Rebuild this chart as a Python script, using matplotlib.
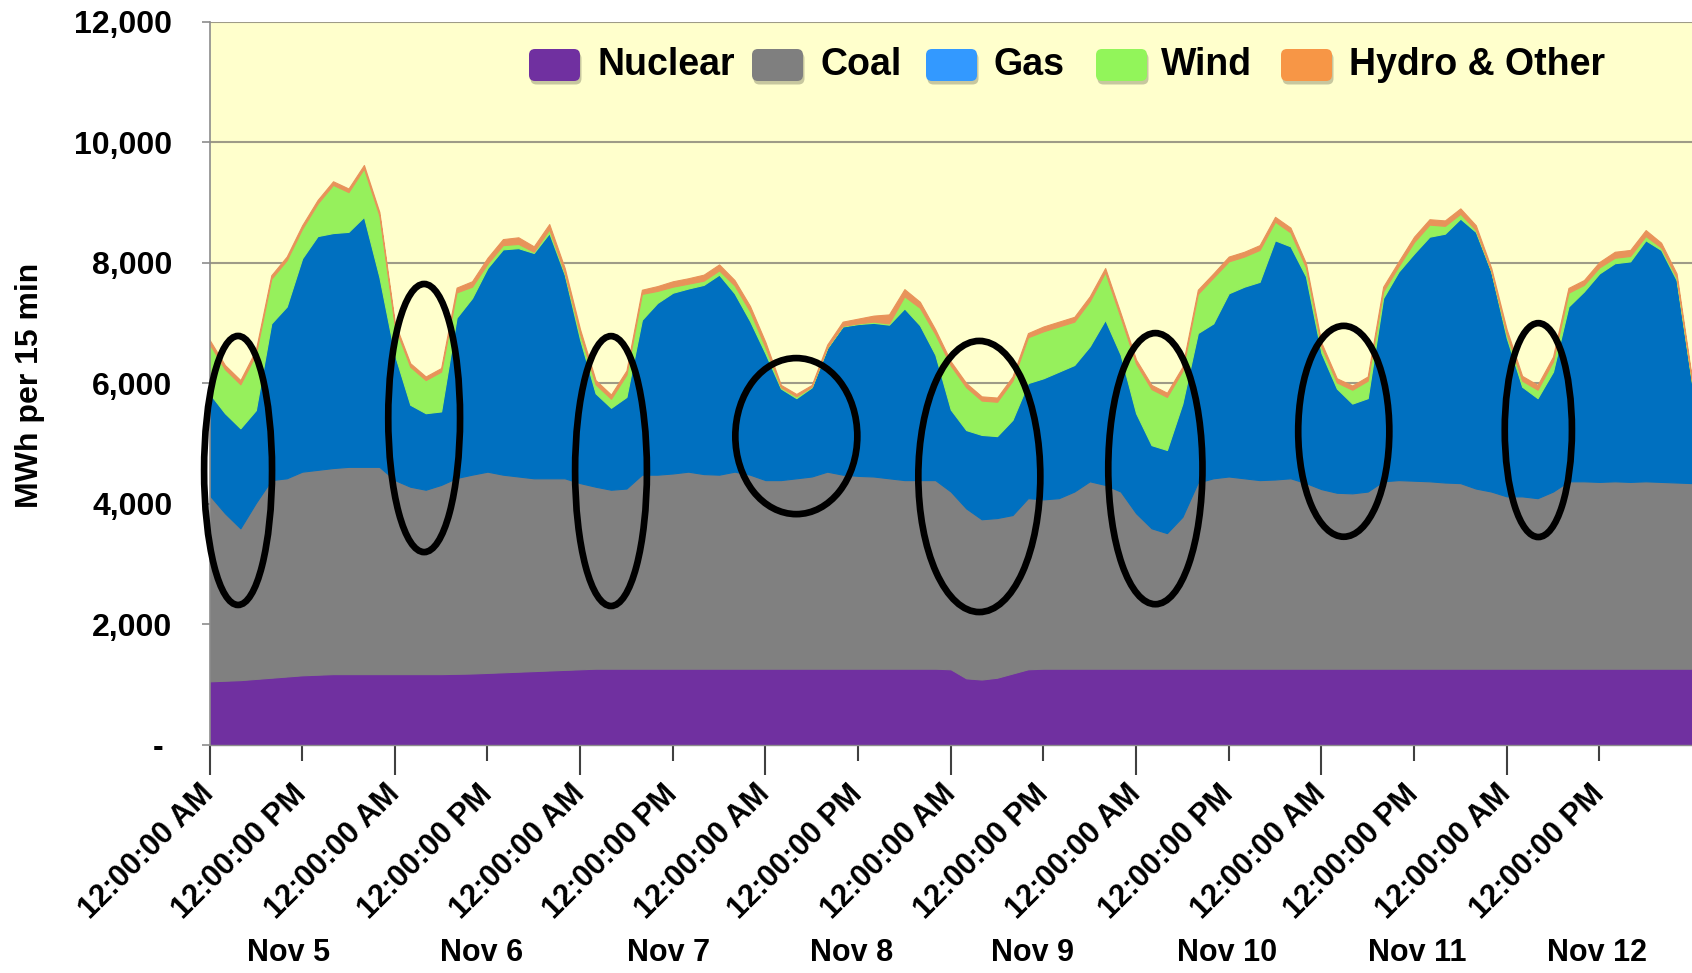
import numpy as np
import matplotlib
matplotlib.use("Agg")
import matplotlib.pyplot as plt
import matplotlib.transforms as mtransforms
from matplotlib.patches import Ellipse, FancyBboxPatch

plt.rcParams["font.family"] = ["Liberation Sans", "DejaVu Sans"]
plt.rcParams["font.weight"] = "bold"

# ---- data: generation by source, MWh per 15 min, every 2 hours from Nov 5 00:00 ----
hours = np.arange(0, 193, 2)

nuclear = [1050, 1060, 1070, 1090, 1110, 1130, 1150, 1160, 1170, 1170, 1170, 1170, 1170, 1170, 1170, 1170,
           1175, 1180, 1190, 1200, 1210, 1220, 1230, 1240, 1250,
           1260, 1260, 1260, 1260, 1260, 1260, 1260, 1260, 1260, 1260, 1260, 1260,
           1260, 1260, 1260, 1260, 1260, 1260, 1260, 1260, 1260, 1260, 1260,
           1250, 1100, 1080, 1110, 1180, 1250,
           1260, 1260, 1260, 1260, 1260, 1260, 1260, 1260, 1260, 1260, 1260,
           1260, 1260, 1260, 1260, 1260, 1260, 1260, 1260, 1260, 1260, 1260,
           1260, 1260, 1260, 1260, 1260, 1260, 1260, 1260, 1260, 1260, 1260,
           1260, 1260, 1260, 1260, 1260, 1260, 1260, 1260, 1260, 1260]

coal = [3090, 2780, 2520, 2920, 3280, 3290, 3380, 3400, 3420, 3440, 3440, 3440,
        3220, 3110, 3060, 3140, 3250, 3300, 3340, 3280, 3240, 3200, 3190, 3180,
        3090, 3020, 2970, 2990, 3220, 3220, 3240, 3270, 3230, 3220, 3270, 3220,
        3130, 3130, 3160, 3190, 3270, 3220, 3200, 3190, 3160, 3130, 3130, 3130,
        2950, 2820, 2660, 2650, 2630, 2840, 2810, 2830, 2940, 3110, 3050, 2940,
        2580, 2330, 2250, 2520, 3090, 3160, 3190, 3160, 3130, 3140, 3160, 3080,
        2980, 2920, 2910, 2940, 3110, 3130, 3120, 3110, 3090, 3080, 2990, 2940,
        2860, 2860, 2830, 2940, 3110, 3110, 3100, 3110, 3100, 3110, 3100, 3090,
        3080]

gas = [1690, 1660, 1660, 1540, 2600, 2850, 3540, 3880, 3900, 3900, 4150, 3150,
       2080, 1360, 1270, 1220, 2660, 2930, 3380, 3740, 3790, 3740, 4070, 3380,
       2380, 1550, 1360, 1520, 2570, 2850, 3000, 3040, 3140, 3320, 2960, 2550,
       2100, 1520, 1330, 1480, 2050, 2460, 2520, 2550, 2550, 2850, 2570, 2080,
       1360, 1300, 1400, 1360, 1580, 1910, 2010, 2100, 2100, 2240, 2740, 2270,
       1660, 1380, 1380, 1880, 2480, 2570, 3040, 3180, 3290, 3970, 3850, 3430,
       2260, 1730, 1490, 1550, 3040, 3460, 3770, 4060, 4130, 4390, 4260, 3650,
       2630, 1820, 1660, 1990, 2900, 3150, 3460, 3620, 3660, 4000, 3850, 3360,
       1660]

wind = [820, 730, 730, 930, 740, 770, 490, 540, 800, 660, 800, 1020,
        470, 630, 550, 660, 420, 190, 70, 70, 70, 20, 60, 30,
        90, 150, 150, 370, 430, 200, 100, 80, 70, 70, 130, 160,
        100, 20, 30, 10, 10, 10, 10, 20, 20, 200, 290, 340,
        730, 710, 570, 570, 650, 760, 780, 750, 720, 750, 790, 620,
        820, 930, 880, 540, 650, 760, 530, 500, 530, 310, 230, 150,
        100, 100, 230, 290, 110, 90, 190, 200, 130, 80, 30, 10,
        60, 100, 140, 170, 230, 110, 100, 90, 90, 70, 40, 40,
        20]

hydro = [70, 70, 70, 70, 60, 60, 60, 60, 60, 60, 60, 60,
         60, 60, 60, 60, 80, 90, 100, 100, 110, 90, 90, 80,
         80, 70, 70, 70, 70, 80, 90, 90, 100, 100, 90, 90,
         90, 40, 40, 30, 50, 70, 80, 100, 150, 120, 100, 80,
         70, 70, 70, 70, 70, 70, 80, 80, 80, 80, 70, 70,
         70, 70, 70, 70, 70, 70, 80, 80, 80, 80, 80, 70,
         70, 70, 70, 70, 80, 80, 90, 90, 90, 90, 80, 50,
         80, 80, 80, 80, 80, 80, 90, 100, 100, 100, 80, 70,
         40]

series_names = ["Nuclear", "Coal", "Gas", "Wind", "Hydro & Other"]
day_labels = ["Nov 5", "Nov 6", "Nov 7", "Nov 8", "Nov 9", "Nov 10", "Nov 11", "Nov 12"]
y_tick_values = [0, 2000, 4000, 6000, 8000, 10000, 12000]
y_tick_labels = ["- ", "2,000", "4,000", "6,000", "8,000", "10,000", "12,000"]

# ---- styling / layout ----
area_colors = ["#7030A0", "#808080", "#0070C0", "#96F05C", "#E8935A"]
legend_colors = ["#7030A0", "#7F7F7F", "#3399FF", "#92F55A", "#F79646"]
legend_swatch_x = [529, 752, 926, 1096, 1281]      # pixel positions of legend swatches
legend_text_x = [597, 820, 993, 1161, 1349]
day_label_x = [10.2, 35.2, 59.4, 83.1, 106.6, 131.8, 156.4, 179.7]  # hours

# highlight rings: (centre hour, centre MWh, width in hours, height in MWh)
rings = [(3.7, 4550, 8.8, 4465), (27.8, 5420, 9.3, 4450), (52.0, 4540, 9.3, 4480),
         (76.0, 5120, 15.8, 2590), (99.7, 4450, 15.8, 4500), (122.5, 4580, 12.2, 4500),
         (146.9, 5200, 11.8, 3500), (172.1, 5220, 8.7, 3550)]

W, H = 1692, 973
fig = plt.figure(figsize=(W / 100, H / 100), dpi=100, facecolor="white")
ax = fig.add_axes([209.5 / W, 1 - 744.6 / H, (W - 209.5) / W, 723 / H])
ax.set_facecolor("#FFFFCC")

polys = ax.stackplot(hours, nuclear, coal, gas, wind, hydro, colors=area_colors, zorder=2)
for p in polys:
    p.set_edgecolor(p.get_facecolor())
    p.set_linewidth(0.8)

ax.set_xlim(0, 192)
ax.set_ylim(0, 12000)

# horizontal grid
ax.set_axisbelow(True)
ax.yaxis.grid(True, color="#9E9B87", linewidth=1.5)
ax.xaxis.grid(False)

for s in ["top", "right"]:
    ax.spines[s].set_visible(False)
ax.spines["left"].set_color("#8C8C8C")
ax.spines["left"].set_linewidth(1.2)
ax.spines["bottom"].set_color("#8C8C8C")
ax.spines["bottom"].set_linewidth(1.0)

# y axis
ax.set_yticks(y_tick_values)
ax.set_yticklabels(y_tick_labels)
ax.tick_params(axis="y", length=5.8, width=1.2, color="#8C8C8C", pad=21, labelsize=23)
ax.set_ylabel("MWh per 15 min", fontsize=23, fontweight="bold")
ax.yaxis.label.set_va("center")
ax.yaxis.set_label_coords(-0.121, 0.497)

# x axis: midnight (major) and noon (minor) ticks
am_ticks = np.arange(0, 169, 24)
pm_ticks = np.arange(12, 181, 24)
ax.set_xticks(am_ticks)
ax.set_xticks(pm_ticks, minor=True)
ax.set_xticklabels(["12:00:00 AM"] * len(am_ticks), rotation=45, ha="right", va="center",
                   rotation_mode="anchor", fontsize=22, fontweight="bold")
ax.set_xticklabels(["12:00:00 PM"] * len(pm_ticks), minor=True, rotation=45, ha="right",
                   va="center", rotation_mode="anchor", fontsize=22, fontweight="bold")
ax.tick_params(axis="x", which="major", length=21.6, width=1.5, color="#404040", pad=10.8)
ax.tick_params(axis="x", which="minor", length=11.5, width=1.5, color="#404040", pad=20.9)

trans = mtransforms.blended_transform_factory(ax.transData, ax.transAxes)
for xpos, lab in zip(day_label_x, day_labels):
    ax.text(xpos, -0.288, lab, transform=trans, ha="center", va="center",
            fontsize=22, fontweight="bold")

# highlight rings
for cx, cy, w, h in rings:
    ax.add_patch(Ellipse((cx, cy), w, h, fill=False, edgecolor="black", linewidth=4.8,
                         clip_on=False, zorder=5))

# legend: rounded swatches with a soft drop shadow
pix = mtransforms.IdentityTransform()
sw_w, sw_h, sw_y = 51, 32, H - 81
for sx, tx, col, name in zip(legend_swatch_x, legend_text_x, legend_colors, series_names):
    style = "round,pad=0,rounding_size=6"
    fig.patches.append(FancyBboxPatch((sx + 1.5, sw_y - 3.5), sw_w, sw_h, boxstyle=style,
                                      facecolor="black", alpha=0.22, edgecolor="none",
                                      transform=pix, figure=fig, zorder=6))
    fig.patches.append(FancyBboxPatch((sx, sw_y), sw_w, sw_h, boxstyle=style,
                                      facecolor=col, edgecolor="none",
                                      transform=pix, figure=fig, zorder=7))
    fig.text(tx / W, 1 - 65 / H, name, ha="left", va="center", fontsize=27,
             fontweight="bold", zorder=8)

fig.savefig("out.png", dpi=100, facecolor="white")
